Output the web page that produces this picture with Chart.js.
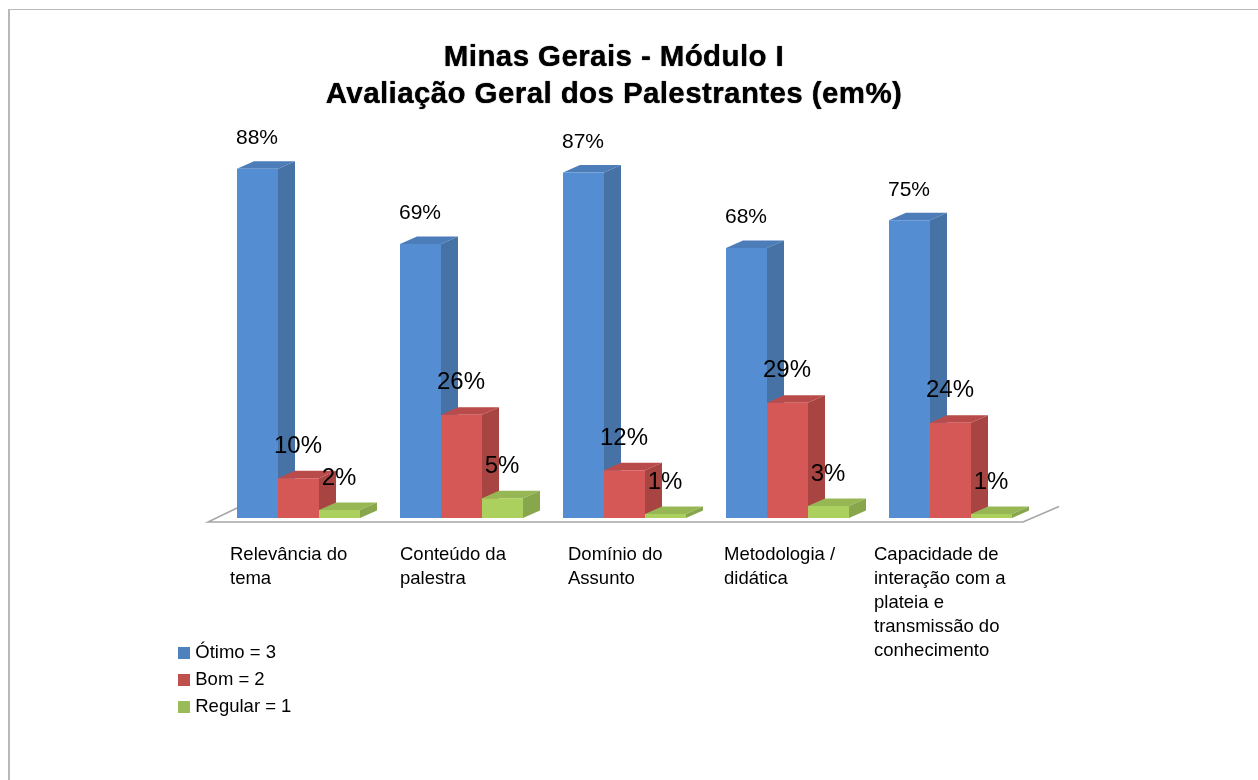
<!DOCTYPE html>
<html>
<head>
<meta charset="utf-8">
<title>Minas Gerais - Módulo I</title>
<script src="https://cdn.jsdelivr.net/npm/chart.js@4"></script>
<style>
    body { margin: 0; background: #fff; overflow: hidden; }
    #frame { position: absolute; left: 8px; top: 9px; width: 1250px; height: 771px; border-top: 1px solid #bbb; border-left: 2px solid #b8b8b8; }
    #chart { position: absolute; left: 0; top: 0; }
</style>
</head>
<body>
<div id="frame"></div>
<canvas id="chart" width="1258" height="780"></canvas>
<script>
const titleLines = ['Minas Gerais - Módulo I', 'Avaliação Geral dos Palestrantes (em%)'];
const categories = [
    ['Relevância do', 'tema'],
    ['Conteúdo da', 'palestra'],
    ['Domínio do', 'Assunto'],
    ['Metodologia /', 'didática'],
    ['Capacidade de', 'interação com a', 'plateia e', 'transmissão do', 'conhecimento']
];
const seriesNames = ['Ótimo = 3', 'Bom = 2', 'Regular = 1'];
const otimo = [88, 69, 87, 68, 75];
const bom = [10, 26, 12, 29, 24];
const regular = [2, 5, 1, 3, 1];

const frontColors = ['#558dd2', '#d55856', '#abd05d'];
const topColors = ['#4c7db8', '#b94c4a', '#97b755'];
const sideColors = ['#4672a6', '#a84543', '#88a64c'];
const legendColors = ['#4f81bd', '#c0504d', '#9bbb59'];

const FONT = '"Liberation Sans", Arial, sans-serif';
const depthX = 17;
const depthY = -7.5;
const tickLefts = [230, 400, 568, 724, 874]; // wrapped labels start here, not on the bar centre

// legend square as an image, so the text can sit closer to it than boxWidth allows
function legendSquare(color) {
    const c = document.createElement('canvas');
    c.width = 12;
    c.height = 12;
    const g = c.getContext('2d');
    g.fillStyle = color;
    g.fillRect(0, 0, 12, 12);
    return c;
}

const moveBoxes = {
    id: 'moveBoxes',
    afterLayout(chart) {
        const title = chart.titleBlock;
        title.left = 0;
        title.right = 1228;
        if (!title.wideDraw) {
            // the original title is spaced out and heavier than plain bold
            const draw = title.draw;
            title.wideDraw = true;
            title.draw = function () {
                const ctx = chart.ctx;
                ctx.save();
                ctx.letterSpacing = '0.4px';
                ctx.shadowColor = '#000';
                ctx.shadowBlur = 1;
                draw.call(this);
                ctx.restore();
            };
        }
        const legend = chart.legend;
        legend.left = 173.5;
        legend.top = 635;
        legend.right = 330;
        legend.bottom = 735;
        legend.width = 156.5;
        legend.height = 100;
    },
    beforeDraw(chart) {
        chart.scales.x.getLabelItems().forEach((item, i) => {
            item.options.translation[0] = tickLefts[i];
        });
    }
};

// floor line plus the sides and tops of the bars, the library paints the fronts over them
const depth = {
    id: 'depth',
    beforeDatasetsDraw(chart) {
        const ctx = chart.ctx;
        const area = chart.chartArea;
        const floorY = area.bottom + 4;
        ctx.save();
        ctx.strokeStyle = '#a6a6a6';
        ctx.lineWidth = 1.5;
        ctx.beginPath();
        ctx.moveTo(area.left + 20, floorY - 14);
        ctx.lineTo(area.left - 9, floorY);
        ctx.lineTo(area.right - 9, floorY);
        ctx.lineTo(area.right + 27, floorY - 15.5);
        ctx.stroke();
        chart.data.datasets.forEach((ds, d) => {
            chart.getDatasetMeta(d).data.forEach(bar => {
                const left = bar.x - bar.width / 2;
                const right = bar.x + bar.width / 2;
                ctx.fillStyle = topColors[d];
                ctx.beginPath();
                ctx.moveTo(left, bar.y);
                ctx.lineTo(left + depthX, bar.y + depthY);
                ctx.lineTo(right + depthX, bar.y + depthY);
                ctx.lineTo(right, bar.y);
                ctx.closePath();
                ctx.fill();
                ctx.fillStyle = sideColors[d];
                ctx.beginPath();
                ctx.moveTo(right, bar.y);
                ctx.lineTo(right + depthX, bar.y + depthY);
                ctx.lineTo(right + depthX, bar.base + depthY);
                ctx.lineTo(right, bar.base);
                ctx.closePath();
                ctx.fill();
            });
        });
        ctx.restore();
    }
};

const valueLabels = {
    id: 'valueLabels',
    afterDatasetsDraw(chart) {
        const ctx = chart.ctx;
        ctx.save();
        ctx.fillStyle = '#000';
        ctx.textAlign = 'center';
        ctx.textBaseline = 'middle';
        chart.data.datasets.forEach((ds, d) => {
            ctx.font = (d === 0 ? '21px ' : '24px ') + FONT;
            chart.getDatasetMeta(d).data.forEach((bar, i) => {
                ctx.fillText(ds.data[i] + '%', bar.x - 0.5, bar.y - (d === 0 ? 30.5 : 32));
            });
        });
        ctx.restore();
    }
};

new Chart(document.getElementById('chart'), {
    type: 'bar',
    data: {
        labels: categories,
        datasets: [
            { label: seriesNames[0], data: otimo, backgroundColor: frontColors[0] },
            { label: seriesNames[1], data: bom, backgroundColor: frontColors[1] },
            { label: seriesNames[2], data: regular, backgroundColor: frontColors[2] }
        ]
    },
    options: {
        responsive: false,
        animation: false,
        categoryPercentage: 0.7546,
        barPercentage: 1,
        layout: { padding: { top: 39, left: 217, right: 226, bottom: 0 } },
        scales: {
            x: {
                grid: { display: false, drawTicks: false },
                border: { display: false },
                afterFit(scale) { scale.height = 262; },
                ticks: {
                    align: 'start',
                    maxRotation: 0,
                    autoSkip: false,
                    padding: 25,
                    color: '#000',
                    font: { family: FONT, size: 18.5, lineHeight: 24 / 18.5 }
                }
            },
            y: { display: false, min: 0, max: 100 }
        },
        plugins: {
            title: {
                display: true,
                text: titleLines,
                color: '#000',
                padding: { top: 0, bottom: 8 },
                font: { family: FONT, size: 29.5, weight: 'bold', lineHeight: 37 / 29.5 }
            },
            legend: {
                position: 'chartArea',
                align: 'start',
                labels: {
                    usePointStyle: true,
                    pointStyleWidth: 4,
                    boxHeight: 12,
                    padding: 8.5,
                    color: '#000',
                    font: { family: FONT, size: 18.5 },
                    generateLabels: chart => chart.data.datasets.map((ds, i) => ({
                        text: ds.label,
                        pointStyle: legendSquare(legendColors[i]),
                        fillStyle: legendColors[i],
                        strokeStyle: legendColors[i],
                        lineWidth: 0,
                        datasetIndex: i
                    }))
                }
            },
            tooltip: { enabled: false }
        }
    },
    plugins: [moveBoxes, depth, valueLabels]
});
</script>
</body>
</html>
